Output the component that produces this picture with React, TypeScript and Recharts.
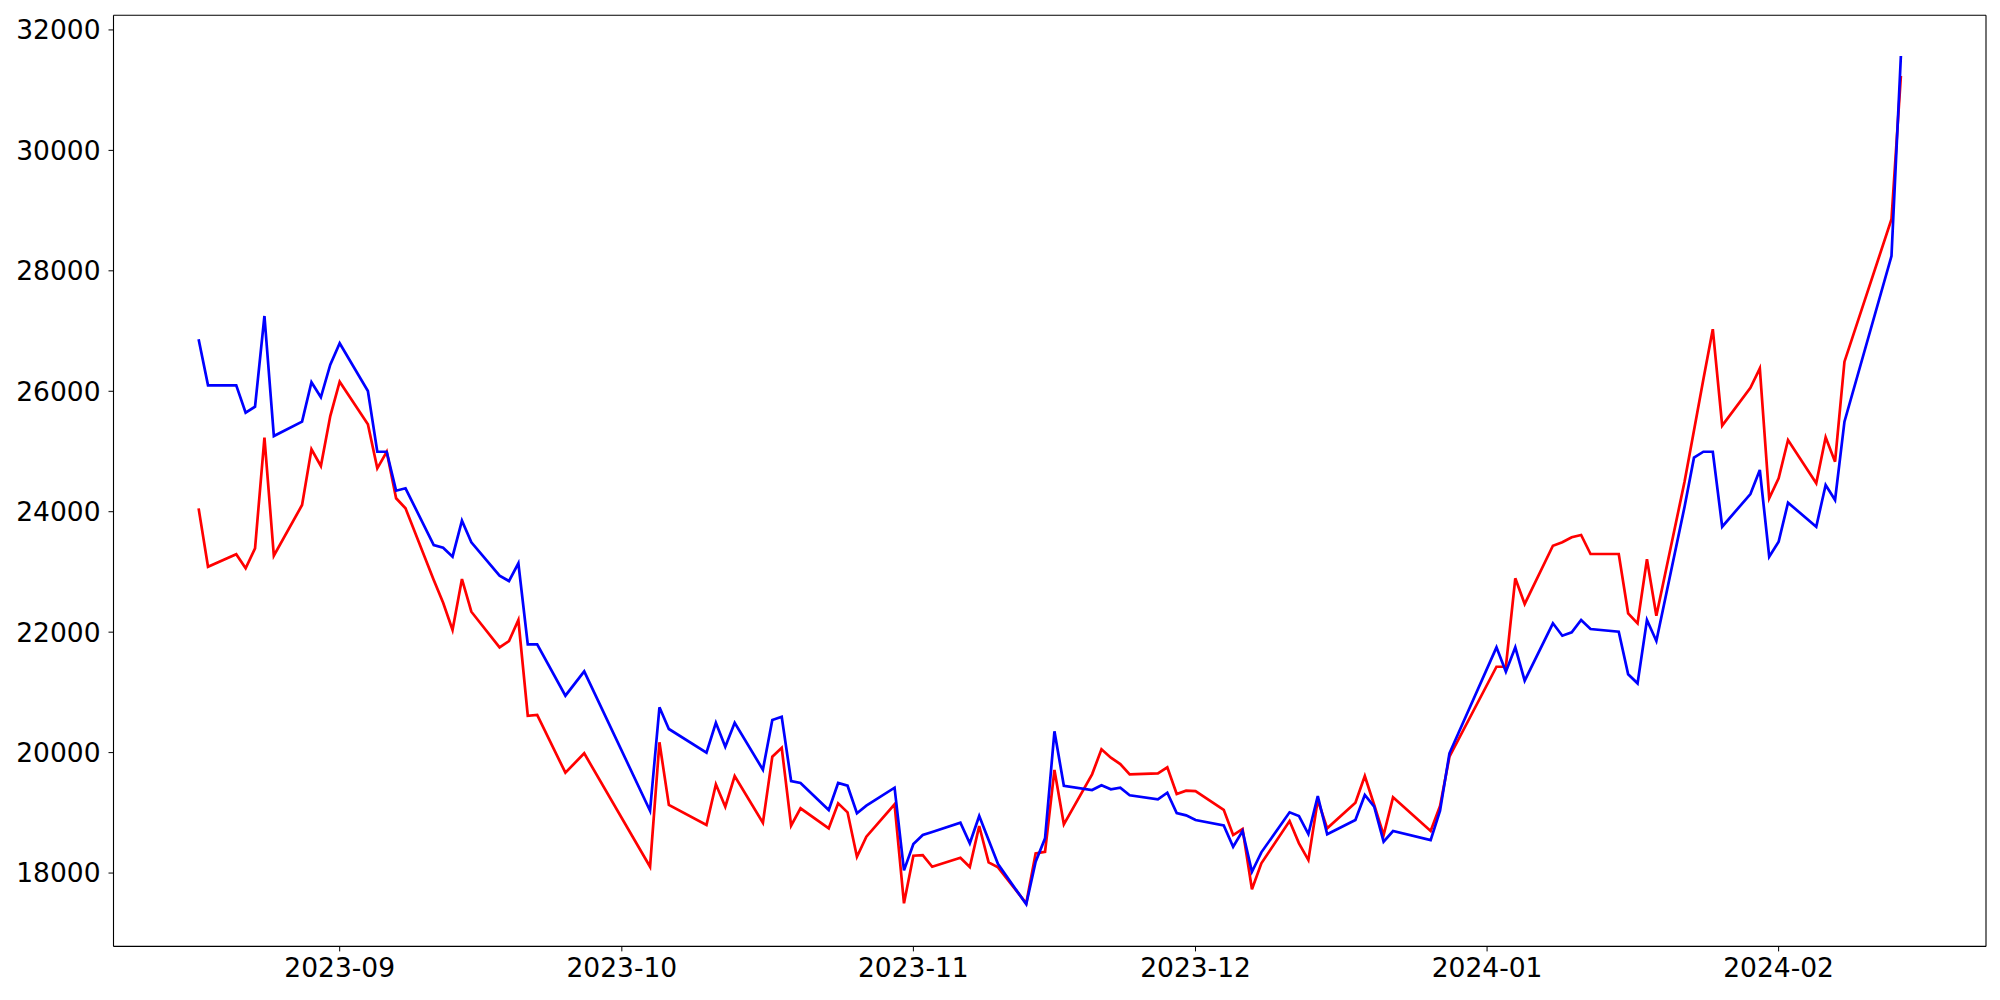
import React from 'react';
import { LineChart, Line, XAxis, YAxis, ReferenceLine } from 'recharts';

const DATES = [
  '2023-08-17', '2023-08-18', '2023-08-21', '2023-08-22', '2023-08-23', '2023-08-24', '2023-08-25', '2023-08-28', '2023-08-29', '2023-08-30', '2023-08-31',
  '2023-09-01', '2023-09-04', '2023-09-05', '2023-09-06', '2023-09-07', '2023-09-08', '2023-09-11', '2023-09-12', '2023-09-13', '2023-09-14', '2023-09-15', '2023-09-18', '2023-09-19', '2023-09-20', '2023-09-21', '2023-09-22', '2023-09-25', '2023-09-27',
  '2023-10-04', '2023-10-05', '2023-10-06', '2023-10-10', '2023-10-11', '2023-10-12', '2023-10-13', '2023-10-16', '2023-10-17', '2023-10-18', '2023-10-19', '2023-10-20', '2023-10-23', '2023-10-24', '2023-10-25', '2023-10-26', '2023-10-27', '2023-10-30', '2023-10-31',
  '2023-11-01', '2023-11-02', '2023-11-03', '2023-11-06', '2023-11-07', '2023-11-08', '2023-11-09', '2023-11-10', '2023-11-13', '2023-11-14', '2023-11-15', '2023-11-16', '2023-11-17', '2023-11-20', '2023-11-21', '2023-11-22', '2023-11-23', '2023-11-24', '2023-11-27', '2023-11-28', '2023-11-29', '2023-11-30',
  '2023-12-01', '2023-12-04', '2023-12-05', '2023-12-06', '2023-12-07', '2023-12-08', '2023-12-11', '2023-12-12', '2023-12-13', '2023-12-14', '2023-12-15', '2023-12-18', '2023-12-19', '2023-12-20', '2023-12-21', '2023-12-22', '2023-12-26', '2023-12-27', '2023-12-28',
  '2024-01-02', '2024-01-03', '2024-01-04', '2024-01-05', '2024-01-08', '2024-01-09', '2024-01-10', '2024-01-11', '2024-01-12', '2024-01-15', '2024-01-16', '2024-01-17', '2024-01-18', '2024-01-19', '2024-01-22', '2024-01-23', '2024-01-24', '2024-01-25', '2024-01-26', '2024-01-29', '2024-01-30', '2024-01-31',
  '2024-02-01', '2024-02-02', '2024-02-05', '2024-02-06', '2024-02-07', '2024-02-08', '2024-02-13', '2024-02-14',
];

const RED = [
  24056, 23087, 23293, 23060, 23392, 25229, 23269, 24111, 25036, 24759, 25589,
  26159, 25451, 24721, 24996, 24223, 24056, 22866, 22489, 22036, 22882, 22339, 21748, 21853, 22202, 20612, 20624, 19666, 19988,
  18105, 20171, 19130, 18797, 19473, 19101, 19611, 18836, 19932, 20081, 18786, 19075, 18743, 19158, 19008, 18271, 18603, 19141, 17497,
  18288, 18299, 18105, 18254, 18100, 18781, 18178, 18095, 17497, 18327, 18354, 19711, 18809, 19639, 20054, 19915, 19810, 19639, 19656, 19755, 19312, 19367,
  19362, 19050, 18631, 18731, 17730, 18161, 18864, 18494, 18216, 19213, 18743, 19168, 19611, 19130, 18631, 19257, 18698, 19113, 19932,
  21426, 21426, 22894, 22467, 23435, 23492, 23575, 23613, 23298, 23298, 22313, 22147, 23210, 22273, 24500, 25350, 26200, 27030, 25430, 26059, 26381, 24223,
  24555, 25191, 24472, 25236, 24830, 26491, 28856, 31235,
];

const BLUE = [
  26863, 26099, 26099, 25644, 25744, 27250, 25257, 25495, 26149, 25900, 26441,
  26797, 26004, 24996, 24996, 24349, 24389, 23447, 23402, 23253, 23851, 23492, 22937, 22849, 23143, 21798, 21798, 20945, 21350,
  19035, 20752, 20392, 19998, 20496, 20098, 20496, 19716, 20541, 20596, 19528, 19495, 19046, 19495, 19450, 18992, 19118, 19417, 18045,
  18482, 18631, 18683, 18836, 18494, 18947, 18548, 18150, 17481, 18188, 18576, 20353, 19450, 19379, 19457, 19390, 19417, 19291, 19224, 19334, 18997, 18958,
  18880, 18792, 18437, 18698, 18022, 18344, 19008, 18947, 18648, 19279, 18643, 18880, 19296, 19101, 18520, 18698, 18548, 19035, 19988,
  21748, 21343, 21748, 21194, 22147, 21941, 21997, 22202, 22052, 22007, 21300, 21150, 22202, 21853, 24083, 24897, 24996, 24996, 23751, 24294, 24693, 23253,
  23502, 24150, 23751, 24443, 24194, 25495, 28246, 31567,
];

const Y_TICKS = [18000, 20000, 22000, 24000, 26000, 28000, 30000, 32000];
const X_TICK_DATES = ['2023-09-01', '2023-10-01', '2023-11-01', '2023-12-01', '2024-01-01', '2024-02-01'];
const Y_DOMAIN: [number, number] = [16782, 32243];

const toTs = (s: string) => {
  const [y, m, d] = s.split('-').map(Number);
  return Date.UTC(y, m - 1, d);
};

const data = DATES.map((d, i) => ({ t: toTs(d), red: RED[i], blue: BLUE[i] }));
const t0 = data[0].t;
const t1 = data[data.length - 1].t;
const xPad = (t1 - t0) * 0.05;
const X_DOMAIN: [number, number] = [t0 - xPad, t1 + xPad];
const X_TICKS = X_TICK_DATES.map(toTs);

const fmtMonth = (t: number) => {
  const d = new Date(t);
  const m = d.getUTCMonth() + 1;
  return `${d.getUTCFullYear()}-${m < 10 ? '0' + m : m}`;
};

const tickStyle = { fontSize: 26.5, fill: '#000', fontFamily: 'DejaVu Sans' };

export default function App() {
  return (
    <div style={{ width: 1984, height: 984, background: '#fff' }}>
      <LineChart
        width={1984}
        height={984}
        data={data}
        margin={{ top: 7.3, right: 6, bottom: 5.6, left: 0 }}
      >
        <XAxis
          dataKey="t"
          type="number"
          domain={X_DOMAIN}
          ticks={X_TICKS}
          tickFormatter={fmtMonth}
          allowDataOverflow
          height={40}
          tick={tickStyle}
          tickSize={5}
          tickMargin={7}
          stroke="#000"
          tickLine={{ stroke: '#000' }}
          axisLine={{ stroke: '#000', strokeWidth: 1.1 }}
        />
        <YAxis
          type="number"
          domain={Y_DOMAIN}
          ticks={Y_TICKS}
          allowDataOverflow
          width={105.5}
          tick={tickStyle}
          tickSize={5}
          tickMargin={8}
          stroke="#000"
          tickLine={{ stroke: '#000' }}
          axisLine={{ stroke: '#000', strokeWidth: 1.1 }}
        />
        <ReferenceLine y={Y_DOMAIN[1]} stroke="#000" strokeWidth={1.1} />
        <ReferenceLine x={X_DOMAIN[1]} stroke="#000" strokeWidth={1.1} />
        <Line
          type="linear"
          dataKey="red"
          stroke="#ff0000"
          strokeWidth={2.7}
          dot={false}
          activeDot={false}
          isAnimationActive={false}
        />
        <Line
          type="linear"
          dataKey="blue"
          stroke="#0000ff"
          strokeWidth={2.7}
          dot={false}
          activeDot={false}
          isAnimationActive={false}
        />
      </LineChart>
    </div>
  );
}
